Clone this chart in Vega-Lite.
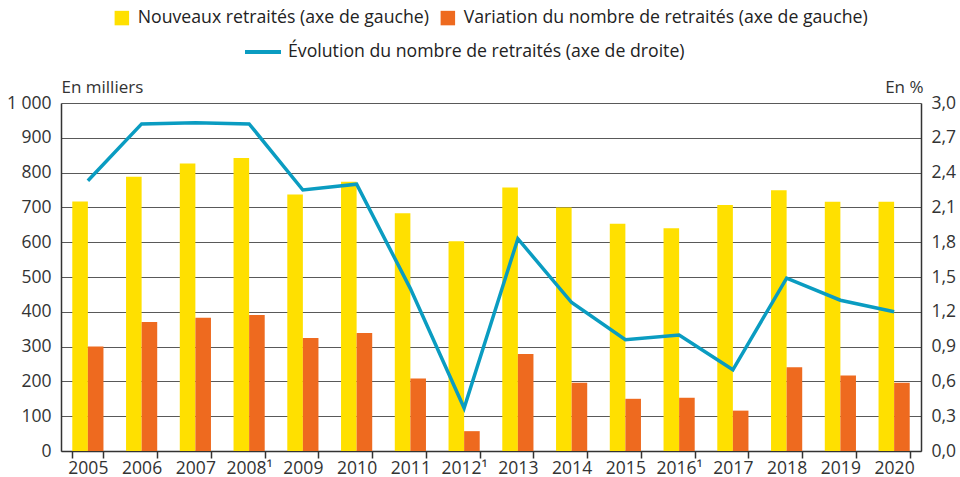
{
  "$schema": "https://vega.github.io/schema/vega-lite/v6.json",
  "width": 860,
  "height": 348,
  "autosize": {"type": "none"},
  "padding": {"left": 61, "top": 103, "right": 39, "bottom": 26},
  "background": "white",
  "config": {
    "view": {"stroke": null},
    "font": "Open Sans",
    "axis": {"labelFont": "Open Sans", "labelFontSize": 17.5, "labelColor": "#333333", "titleFont": "Open Sans", "titleFontSize": 17, "titleFontWeight": "normal", "titleColor": "#333333"},
    "legend": {"labelFont": "Open Sans", "labelFontSize": 17.7, "labelColor": "#222222", "padding": 0, "labelLimit": 0}
  },
  "datasets": {
    "bars": [
      {"annee": "2005", "serie": "Nouveaux retraités (axe de gauche)", "valeur": 717},
      {"annee": "2005", "serie": "Variation du nombre de retraités (axe de gauche)", "valeur": 300},
      {"annee": "2006", "serie": "Nouveaux retraités (axe de gauche)", "valeur": 788},
      {"annee": "2006", "serie": "Variation du nombre de retraités (axe de gauche)", "valeur": 371},
      {"annee": "2007", "serie": "Nouveaux retraités (axe de gauche)", "valeur": 826},
      {"annee": "2007", "serie": "Variation du nombre de retraités (axe de gauche)", "valeur": 383},
      {"annee": "2008¹", "serie": "Nouveaux retraités (axe de gauche)", "valeur": 842},
      {"annee": "2008¹", "serie": "Variation du nombre de retraités (axe de gauche)", "valeur": 391},
      {"annee": "2009", "serie": "Nouveaux retraités (axe de gauche)", "valeur": 737},
      {"annee": "2009", "serie": "Variation du nombre de retraités (axe de gauche)", "valeur": 325},
      {"annee": "2010", "serie": "Nouveaux retraités (axe de gauche)", "valeur": 774},
      {"annee": "2010", "serie": "Variation du nombre de retraités (axe de gauche)", "valeur": 339},
      {"annee": "2011", "serie": "Nouveaux retraités (axe de gauche)", "valeur": 683},
      {"annee": "2011", "serie": "Variation du nombre de retraités (axe de gauche)", "valeur": 208},
      {"annee": "2012¹", "serie": "Nouveaux retraités (axe de gauche)", "valeur": 603},
      {"annee": "2012¹", "serie": "Variation du nombre de retraités (axe de gauche)", "valeur": 57},
      {"annee": "2013", "serie": "Nouveaux retraités (axe de gauche)", "valeur": 757},
      {"annee": "2013", "serie": "Variation du nombre de retraités (axe de gauche)", "valeur": 279},
      {"annee": "2014", "serie": "Nouveaux retraités (axe de gauche)", "valeur": 700},
      {"annee": "2014", "serie": "Variation du nombre de retraités (axe de gauche)", "valeur": 196},
      {"annee": "2015", "serie": "Nouveaux retraités (axe de gauche)", "valeur": 653},
      {"annee": "2015", "serie": "Variation du nombre de retraités (axe de gauche)", "valeur": 150},
      {"annee": "2016¹", "serie": "Nouveaux retraités (axe de gauche)", "valeur": 640},
      {"annee": "2016¹", "serie": "Variation du nombre de retraités (axe de gauche)", "valeur": 153},
      {"annee": "2017", "serie": "Nouveaux retraités (axe de gauche)", "valeur": 707},
      {"annee": "2017", "serie": "Variation du nombre de retraités (axe de gauche)", "valeur": 116},
      {"annee": "2018", "serie": "Nouveaux retraités (axe de gauche)", "valeur": 749},
      {"annee": "2018", "serie": "Variation du nombre de retraités (axe de gauche)", "valeur": 241},
      {"annee": "2019", "serie": "Nouveaux retraités (axe de gauche)", "valeur": 716},
      {"annee": "2019", "serie": "Variation du nombre de retraités (axe de gauche)", "valeur": 217},
      {"annee": "2020", "serie": "Nouveaux retraités (axe de gauche)", "valeur": 716},
      {"annee": "2020", "serie": "Variation du nombre de retraités (axe de gauche)", "valeur": 196}
    ],
    "ligne": [
      {"annee": "2005", "evol": 2.33},
      {"annee": "2006", "evol": 2.82},
      {"annee": "2007", "evol": 2.83},
      {"annee": "2008¹", "evol": 2.82},
      {"annee": "2009", "evol": 2.25},
      {"annee": "2010", "evol": 2.30},
      {"annee": "2011", "evol": 1.40},
      {"annee": "2012¹", "evol": 0.37},
      {"annee": "2013", "evol": 1.83},
      {"annee": "2014", "evol": 1.28},
      {"annee": "2015", "evol": 0.96},
      {"annee": "2016¹", "evol": 1.00},
      {"annee": "2017", "evol": 0.70},
      {"annee": "2018", "evol": 1.49},
      {"annee": "2019", "evol": 1.30},
      {"annee": "2020", "evol": 1.20}
    ]
  },
  "layer": [
    {
      "data": {"name": "bars"},
      "mark": {"type": "bar"},
      "encoding": {
        "x": {
          "field": "annee", "type": "nominal", "sort": null,
          "scale": {"paddingInner": 0.42, "paddingOuter": 0.21},
          "axis": {"title": null, "labelAngle": 0, "domain": true, "domainColor": "#333333", "domainWidth": 1.5, "ticks": true, "tickBand": "extent", "tickSize": 7, "tickColor": "#333333", "tickWidth": 1.5, "labelPadding": 1, "grid": false}
        },
        "xOffset": {"field": "serie", "type": "nominal", "sort": null, "scale": {"paddingInner": 0}},
        "y": {
          "field": "valeur", "type": "quantitative",
          "scale": {"domain": [0, 1000]},
          "axis": {"orient": "left", "values": [0, 100, 200, 300, 400, 500, 600, 700, 800, 900, 1000], "labelExpr": "replace(format(datum.value, ','), ',', ' ')", "grid": true, "gridColor": "#595959", "gridWidth": 1.2, "ticks": false, "domain": true, "domainColor": "#333333", "domainWidth": 1.5, "labelPadding": 10, "title": "En milliers", "titleAngle": 0, "titleAlign": "left", "titleBaseline": "alphabetic", "titleX": 0, "titleY": -11}
        },
        "color": {
          "field": "serie", "type": "nominal", "sort": null,
          "scale": {"range": ["#FFE000", "#EE6A1F"]},
          "legend": {"title": null, "orient": "none", "direction": "horizontal", "legendX": 52, "legendY": -94, "symbolType": "square", "symbolSize": 210, "symbolStrokeWidth": 0, "labelOffset": 7, "columnPadding": 10}
        }
      }
    },
    {
      "data": {"name": "ligne"},
      "mark": {"type": "line", "strokeWidth": 3.5},
      "encoding": {
        "x": {"field": "annee", "type": "nominal", "sort": null},
        "y": {
          "field": "evol", "type": "quantitative",
          "scale": {"domain": [0, 3]},
          "axis": {"orient": "right", "values": [0, 0.3, 0.6, 0.9, 1.2, 1.5, 1.8, 2.1, 2.4, 2.7, 3.0], "labelExpr": "replace(format(datum.value, '.1f'), '.', ',')", "grid": false, "ticks": false, "domain": true, "domainColor": "#333333", "domainWidth": 1.5, "labelPadding": 10, "title": "En %", "titleAngle": 0, "titleAlign": "right", "titleBaseline": "alphabetic", "titleX": 2, "titleY": -11}
        },
        "stroke": {
          "datum": "Évolution du nombre de retraités (axe de droite)",
          "scale": {"range": ["#0A9CC1"]},
          "legend": {"title": null, "orient": "none", "legendX": 182, "legendY": -71, "symbolType": "stroke", "symbolSize": 1296, "symbolStrokeWidth": 4, "labelOffset": 5}
        }
      }
    }
  ],
  "resolve": {"scale": {"y": "independent"}}
}
